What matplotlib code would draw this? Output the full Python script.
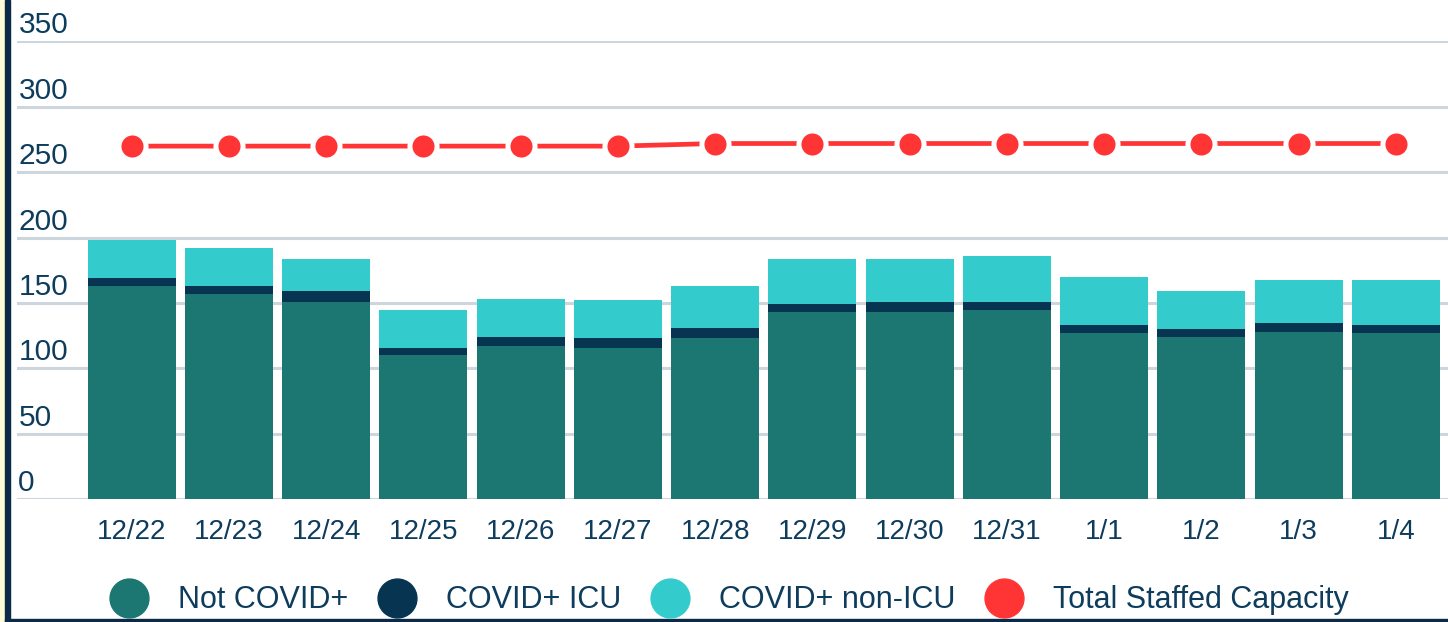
import matplotlib.pyplot as plt
import matplotlib.transforms as mtransforms
from matplotlib.lines import Line2D
from matplotlib.patches import Rectangle
import numpy as np

plt.rcParams['font.family'] = ['Liberation Sans', 'DejaVu Sans']

dates = ['12/22', '12/23', '12/24', '12/25', '12/26', '12/27', '12/28',
         '12/29', '12/30', '12/31', '1/1', '1/2', '1/3', '1/4']
not_covid = [163, 157, 151, 110, 117, 116, 123, 143, 143, 145, 127, 124, 128, 127]
covid_icu = [6, 6, 8, 6, 7, 7, 8, 6, 8, 6, 6, 6, 7, 6]
covid_non_icu = [29, 29, 25, 29, 29, 29, 32, 35, 33, 35, 37, 29, 33, 35]
capacity = [270, 270, 270, 270, 270, 270, 272, 272, 272, 272, 272, 272, 272, 272]
yticks = [0, 50, 100, 150, 200, 250, 300, 350]

c_nc = '#1c7773'
c_icu = '#073551'
c_non = '#34cbcc'
c_cap = '#ff3535'
c_text = '#0d3c5c'
c_grid = '#cdd5dd'

fig = plt.figure(figsize=(14.48, 6.22), dpi=100)
ax = fig.add_axes([0.0117, 0.1973, 0.9883, 0.736])

x = np.arange(len(dates))
nc = np.array(not_covid)
icu = np.array(covid_icu)
non = np.array(covid_non_icu)
w = 0.905
ax.bar(x, nc, w, color=c_nc, zorder=2)
ax.bar(x, icu, w, bottom=nc, color=c_icu, zorder=2)
ax.bar(x, non, w, bottom=nc + icu, color=c_non, zorder=2)
ax.plot(x, capacity, color=c_cap, lw=3.4, marker='o', ms=19.5,
        mfc=c_cap, mec='white', mew=3.6, zorder=3)

ax.set_xlim(-1.18, len(dates) - 1 + 0.535)
ax.set_ylim(0, 350)
ax.set_yticks(yticks)
ax.yaxis.grid(True, color=c_grid, lw=2.2, zorder=0)
ax.set_axisbelow(True)
ax.tick_params(axis='y', length=0, labelleft=False)
ax.set_xticks(x)
ax.set_xticklabels(dates, fontsize=20, color=c_text)
ax.tick_params(axis='x', length=0, pad=14)
for s in ax.spines.values():
    s.set_visible(False)
ax.set_facecolor('none')

# y labels sit above their gridlines at the left edge
trans = mtransforms.blended_transform_factory(ax.transAxes, ax.transData)
off = mtransforms.ScaledTranslation(0, 8 / 100, fig.dpi_scale_trans)
for t in yticks:
    ax.text(0.001, t, str(t), transform=trans + off, fontsize=21.5,
            color=c_text, ha='left', va='baseline')

labels = ['Not COVID+', 'COVID+ ICU', 'COVID+ non-ICU', 'Total Staffed Capacity']
colors = [c_nc, c_icu, c_non, c_cap]
handles = [Line2D([], [], ls='none', marker='o', ms=28, color=c, mec=c) for c in colors]
fig.legend(handles, labels, loc='center', bbox_to_anchor=(0.504, 0.035), ncol=4,
           frameon=False, fontsize=22, labelcolor=c_text, handletextpad=1.0,
           columnspacing=1.0, handlelength=1.2)

# frame bits at left and bottom edges
fig.patches.append(Rectangle((0, 0), 5 / 1448, 1, transform=fig.transFigure,
                             color='#fffbd6', zorder=5))
fig.patches.append(Rectangle((5 / 1448, 0), 5 / 1448, 1, transform=fig.transFigure,
                             color='#0b2a48', zorder=5))
fig.patches.append(Rectangle((5 / 1448, 0), 1, 3 / 622, transform=fig.transFigure,
                             color='#0b2a48', zorder=5))

fig.savefig('out.png', dpi=100)
